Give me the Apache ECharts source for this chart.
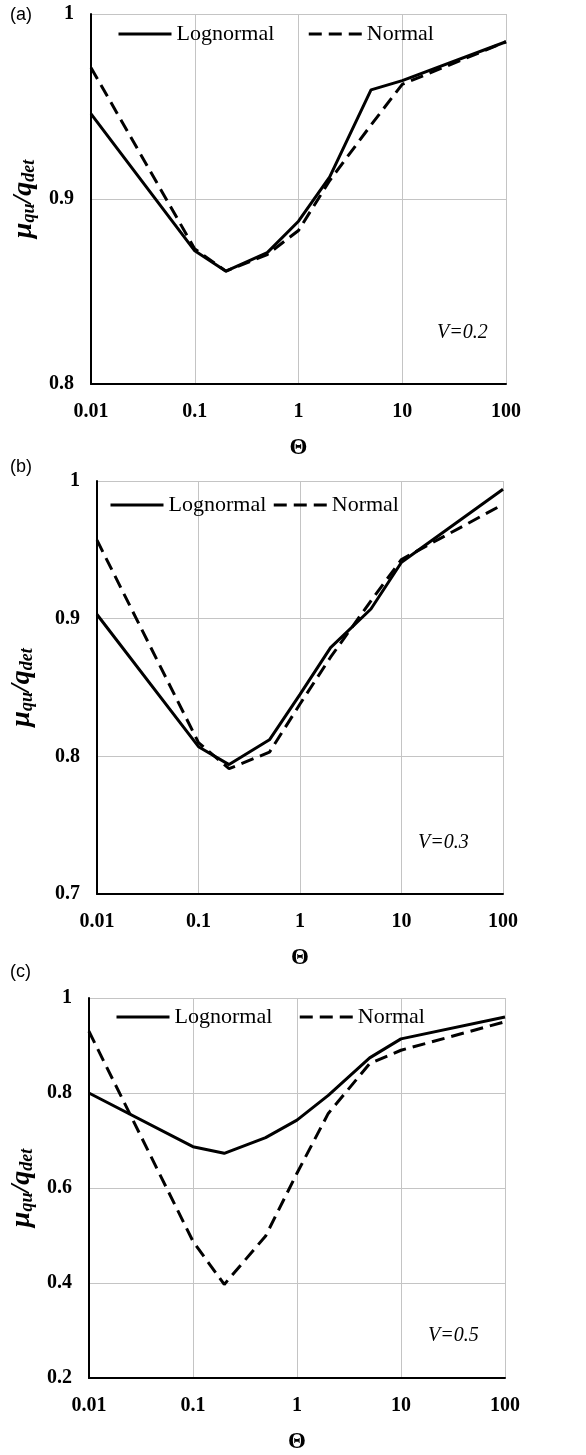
<!DOCTYPE html>
<html><head><meta charset="utf-8">
<script src="https://cdn.jsdelivr.net/npm/echarts@6/dist/echarts.min.js"></script>
<style>html,body{margin:0;padding:0;background:#fff}#c{width:586px;height:1455px}</style>
</head><body><div id="c"></div>
<script>
const theta = [0.01, 0.1, 0.2, 0.5, 1, 2, 5, 10, 100];
const xTicks = ['0.01', '0.1', '1', '10', '100'];
const aLog  = [0.946, 0.872, 0.861, 0.871, 0.888, 0.912, 0.959, 0.964, 0.985];
const aNorm = [0.971, 0.873, 0.861, 0.870, 0.883, 0.910, 0.940, 0.962, 0.985];
const bLog  = [0.903, 0.807, 0.794, 0.812, 0.845, 0.879, 0.907, 0.941, 0.994];
const bNorm = [0.957, 0.810, 0.791, 0.803, 0.838, 0.872, 0.913, 0.943, 0.983];
const cLog  = [0.800, 0.687, 0.673, 0.706, 0.743, 0.795, 0.874, 0.914, 0.960];
const cNorm = [0.930, 0.488, 0.397, 0.499, 0.631, 0.757, 0.862, 0.890, 0.950];
const panelLabels = ['(a)', '(b)', '(c)'];
const vLabels = ['V=0.2', 'V=0.3', 'V=0.5'];
const yRanges = [[0.8, 1, 0.1], [0.7, 1, 0.1], [0.2, 1, 0.2]];

const SERIF = '"Liberation Serif","Times New Roman",serif';
const grids = [
  {left: 91, top: 14, width: 415, height: 370},
  {left: 96, top: 481, width: 407, height: 413},
  {left: 84, top: 998, width: 421, height: 381}
];
const nameGaps = [53, 61, 51];
const legendPos = [{left: 112, top: 18, gap: 33}, {left: 104, top: 489, gap: 6}, {left: 110, top: 1001, gap: 26}];
const panelPos = [[10, 6], [10, 458], [10, 963]];
const vPos = [[437, 323], [418, 833], [428, 1326]];
const data = [[aLog, aNorm], [bLog, bNorm], [cLog, cNorm]];

const pairs = ys => theta.map((t, i) => [t, ys[i]]);
const yName = {
  rich: {
    b: {fontFamily: SERIF, fontWeight: 'bold', fontStyle: 'italic', fontSize: 28, color: '#000'},
    s: {fontFamily: SERIF, fontWeight: 'bold', fontStyle: 'italic', fontSize: 18, color: '#000', verticalAlign: 'bottom', padding: [10, 0, 0, 0]}
  }
};

const option = {
  animation: false,
  backgroundColor: '#fff',
  grid: grids,
  xAxis: grids.map((g, i) => ({
    gridIndex: i, type: 'log', logBase: 10, min: 0.01, max: 100,
    name: 'Θ', nameLocation: 'middle', nameGap: 53,
    nameTextStyle: {fontFamily: SERIF, fontWeight: 'bold', fontSize: 23, color: '#000'},
    axisLine: {lineStyle: {color: '#000', width: 2}},
    axisTick: {show: false},
    axisLabel: {margin: 18, fontFamily: SERIF, fontWeight: 'bold', fontSize: 20, color: '#000',
      formatter: v => { const e = Math.round(Math.log10(v)); return xTicks[e + 2]; }},
    splitLine: {show: true, lineStyle: {color: '#c4c4c4', width: 1}}
  })),
  yAxis: grids.map((g, i) => ({
    gridIndex: i, type: 'value', min: yRanges[i][0], max: yRanges[i][1], interval: yRanges[i][2],
    name: '{b|μ}{s|qu}{b|/q}{s|det}', nameLocation: 'middle', nameRotate: 90, nameGap: nameGaps[i],
    nameTextStyle: yName,
    axisLine: {show: true, lineStyle: {color: '#000', width: 2}},
    axisTick: {show: false},
    axisLabel: {margin: 17, fontFamily: SERIF, fontWeight: 'bold', fontSize: 20, color: '#000',
      formatter: v => String(parseFloat(v.toFixed(2)))},
    splitLine: {show: true, lineStyle: {color: '#c4c4c4', width: 1}}
  })),
  legend: legendPos.map((p, i) => ({
    left: p.left, top: p.top, itemGap: p.gap, itemWidth: 53, itemHeight: 14,
    data: ['Lognormal', 'Normal'],
    itemStyle: {opacity: 0},
    lineStyle: {width: 3},
    textStyle: {fontFamily: SERIF, fontSize: 22, color: '#000'},
    selectedMode: false
  })),
  series: [],
  graphic: []
};
data.forEach((d, i) => {
  option.series.push({
    name: 'Lognormal', type: 'line', xAxisIndex: i, yAxisIndex: i, symbol: 'none',
    data: pairs(d[0]), lineStyle: {color: '#000', width: 3}, itemStyle: {color: '#000'}
  });
  option.series.push({
    name: 'Normal', type: 'line', xAxisIndex: i, yAxisIndex: i, symbol: 'none',
    data: pairs(d[1]), lineStyle: {color: '#000', width: 3, type: [13, 7]}, itemStyle: {color: '#000'}
  });
  option.graphic.push({type: 'text', left: panelPos[i][0], top: panelPos[i][1],
    style: {text: panelLabels[i], font: '18px "Liberation Sans", Arial, sans-serif', fill: '#000'}});
  option.graphic.push({type: 'text', left: vPos[i][0], top: vPos[i][1],
    style: {text: vLabels[i], font: 'italic 20px "Liberation Serif", serif', fill: '#000'}});
});
const chart = echarts.init(document.getElementById('c'), null, {renderer: 'canvas'});
chart.setOption(option);
</script></body></html>
